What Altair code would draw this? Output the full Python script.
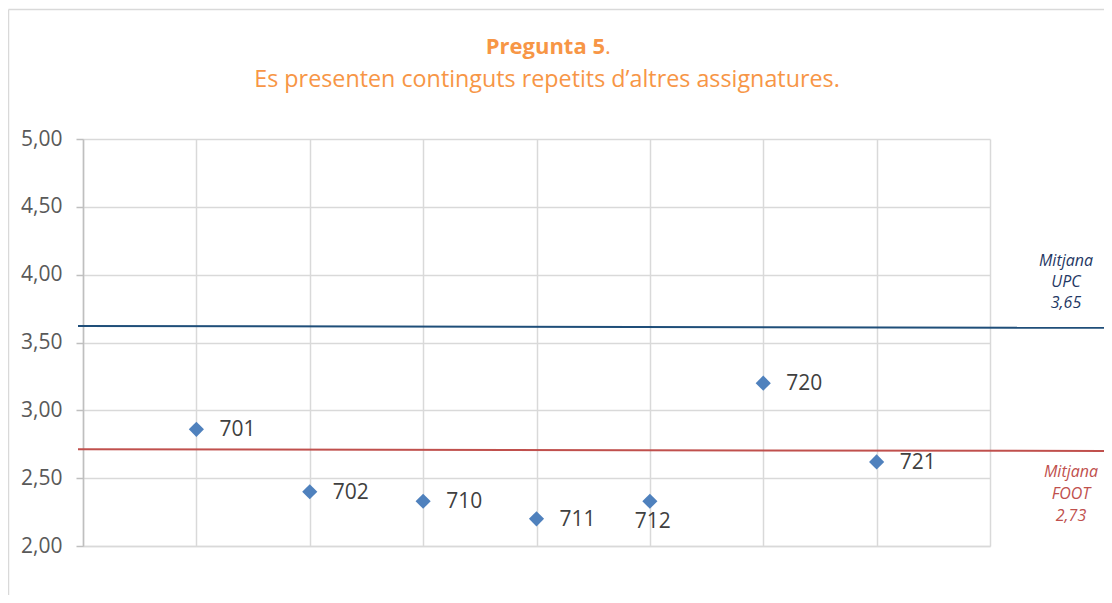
import altair as alt
import pandas as pd

# ---- data ----
codes = ["701", "702", "710", "711", "712", "720", "721"]
positions = [1, 2, 3, 4, 5, 6, 7]
values = [2.86, 2.40, 2.33, 2.20, 2.33, 3.20, 2.62]
label_side = ["right", "right", "right", "right", "below", "right", "right"]

mean_names = ["UPC", "FOOT"]
mean_labels = ["3,65", "2,73"]
mean_line_start = [3.622, 2.713]
mean_line_end = [3.608, 2.700]
mean_x_start = [-0.044, -0.044]
mean_x_end = [9.2, 9.2]
mean_colors = ["#1F4E79", "#C0504D"]
mean_text_colors = ["#1F3864", "#C0504D"]

y_ticks = [2.0, 2.5, 3.0, 3.5, 4.0, 4.5, 5.0]
x_grid = [0, 1, 2, 3, 4, 5, 6, 7, 8]

title_bold = "Pregunta 5"
title_rest = "."
subtitle = "Es presenten continguts repetits d\u2019altres assignatures."

FONT = "Open Sans"
ORANGE = "#F79646"
GRID = "#D9D9D9"

pts = pd.DataFrame({"code": codes, "pos": positions, "val": values, "side": label_side})
means = pd.DataFrame({
    "name": mean_names,
    "x0": mean_x_start, "x1": mean_x_end,
    "y0": mean_line_start, "y1": mean_line_end,
    "label": ["Mitjana\n" + n + "\n" + l for n, l in zip(mean_names, mean_labels)],
})

xs = alt.Scale(domain=[0, 8], nice=False, zero=False)
ys = alt.Scale(domain=[2, 5], nice=False, zero=False)
xaxis = alt.Axis(values=x_grid, grid=True, gridColor=GRID, gridWidth=1.5, labels=False,
                 ticks=False, domain=True, domainColor=GRID, domainWidth=1.5, title=None)
yaxis = alt.Axis(values=y_ticks, grid=True, gridColor=GRID, gridWidth=1.5,
                 labelExpr="replace(format(datum.value, '.2f'), '.', ',')",
                 labelFont=FONT, labelFontSize=21, labelColor="#595959", labelPadding=14,
                 ticks=True, tickSize=7, tickColor="#BFBFBF", tickWidth=1.5,
                 domain=True, domainColor="#BFBFBF", domainWidth=1.5, title=None)


def X(f):
    return alt.X(f, type="quantitative", scale=xs, axis=xaxis)


def Y(f):
    return alt.Y(f, type="quantitative", scale=ys, axis=yaxis)


color_scale = alt.Scale(domain=mean_names, range=mean_colors)
text_color_scale = alt.Scale(domain=mean_names, range=mean_text_colors)

mean_lines = alt.Chart(means).mark_rule(strokeWidth=2).encode(
    x=X("x0"), x2="x1", y=Y("y0"), y2="y1",
    color=alt.Color("name:N", scale=color_scale, legend=None),
)

points = alt.Chart(pts).mark_point(shape="diamond", filled=True, size=230, opacity=1,
                                   color="#4F81BD").encode(x=X("pos"), y=Y("val"))

labels_right = alt.Chart(pts).transform_filter(alt.datum.side == "right").mark_text(
    align="left", baseline="middle", dx=23, dy=1, font=FONT, fontSize=21, color="#404040"
).encode(x=X("pos"), y=Y("val"), text="code:N")

labels_below = alt.Chart(pts).transform_filter(alt.datum.side == "below").mark_text(
    align="center", baseline="middle", dx=3, dy=21, font=FONT, fontSize=21, color="#404040"
).encode(x=X("pos"), y=Y("val"), text="code:N")

upc_label = alt.Chart(means).transform_filter(alt.datum.name == "UPC").mark_text(
    align="center", baseline="alphabetic", lineBreak="\n", lineHeight=21,
    font=FONT, fontSize=16, fontStyle="italic"
).encode(x=alt.value(983), y=alt.value(127), text="label:N",
         color=alt.Color("name:N", scale=text_color_scale, legend=None))

foot_label = alt.Chart(means).transform_filter(alt.datum.name == "FOOT").mark_text(
    align="center", baseline="alphabetic", lineBreak="\n", lineHeight=22,
    font=FONT, fontSize=16, fontStyle="italic"
).encode(x=alt.value(988), y=alt.value(338), text="label:N",
         color=alt.Color("name:N", scale=text_color_scale, legend=None))

one = alt.Data(values=[{"t1": title_bold, "t2": title_rest, "t3": subtitle}])

t_bold = alt.Chart(one).mark_text(align="right", baseline="alphabetic", font=FONT,
                                  fontSize=22, fontWeight="bold", color=ORANGE).encode(
    x=alt.value(522), y=alt.value(-85), text="t1:N")
t_dot = alt.Chart(one).mark_text(align="left", baseline="alphabetic", font=FONT,
                                 fontSize=22, color=ORANGE).encode(
    x=alt.value(522), y=alt.value(-85), text="t2:N")
t_sub = alt.Chart(one).mark_text(align="center", baseline="alphabetic", font=FONT,
                                 fontSize=23.3, color=ORANGE).encode(
    x=alt.value(464), y=alt.value(-52), text="t3:N")

border_v = alt.Chart(one).mark_rule(color=GRID, strokeWidth=1.5).encode(
    x=alt.value(-74.5), y=alt.value(-129.5), y2=alt.value(700))
border_h = alt.Chart(one).mark_rule(color=GRID, strokeWidth=1.5).encode(
    x=alt.value(-74.5), x2=alt.value(1300), y=alt.value(-129.5))

chart = alt.layer(
    mean_lines, points, labels_right, labels_below, upc_label, foot_label,
    t_bold, t_dot, t_sub, border_v, border_h
).resolve_scale(color="independent").properties(
    width=907, height=407,
    autosize=alt.AutoSizeParams(type="none"),
    padding={"left": 75, "top": 131, "right": 114, "bottom": 49},
    background="white",
).configure_view(strokeWidth=0)

chart.save("out.html", embed_options={"renderer": "svg", "actions": False})
